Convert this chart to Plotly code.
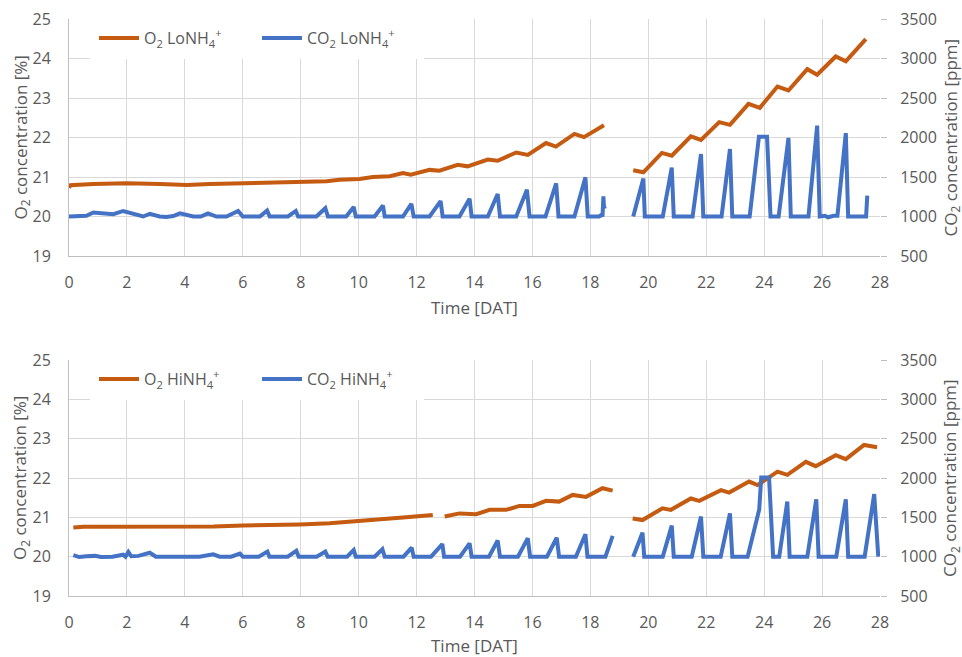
import plotly.graph_objects as go

# ---------------- data ----------------
# Top panel: LoNH4+
lo_o2_x = [0.0, 0.05, 0.84, 1.99, 3.14, 4.06, 4.86, 5.67, 6.59, 7.51, 7.97, 8.89, 9.34, 10.03,
           10.49, 11.07, 11.53, 11.8, 12.45, 12.79, 13.42, 13.76, 14.46, 14.8, 15.44, 15.84,
           16.47, 16.81, 17.45, 17.78, 18.47, None,
           19.48, 19.83, 20.47, 20.81, 21.47, 21.82, 22.45, 22.82, 23.46, 23.85, 24.46, 24.84,
           25.49, 25.83, 26.47, 26.82, 27.51]
lo_o2_pct = [20.73, 20.79, 20.82, 20.84, 20.82, 20.8, 20.82, 20.83, 20.84, 20.86, 20.88, 20.89,
             20.93, 20.95, 21.0, 21.02, 21.1, 21.06, 21.18, 21.16, 21.31, 21.27, 21.44, 21.41,
             21.62, 21.56, 21.86, 21.77, 22.09, 22.01, 22.31, None,
             21.17, 21.12, 21.61, 21.54, 22.03, 21.94, 22.39, 22.32, 22.85, 22.75, 23.29, 23.19,
             23.73, 23.59, 24.05, 23.93, 24.49]

lo_co2_x = [0.0, 0.34, 0.6, 0.84, 1.18, 1.53, 1.87, 2.2, 2.56, 2.79, 3.13, 3.36, 3.6, 3.83, 4.29,
            4.55, 4.8, 5.09, 5.44, 5.84, 6.0, 6.59, 6.84, 6.93, 7.56, 7.83, 7.91, 8.54, 8.85, 8.94,
            9.57, 9.83, 9.9, 10.55, 10.84, 10.9, 11.53, 11.82, 11.9, 12.45, 12.83, 12.9, 13.48,
            13.83, 13.9, 14.46, 14.8, 14.88, 15.44, 15.81, 15.9, 16.45, 16.82, 16.9, 17.45, 17.83,
            17.91, 18.3, 18.38, 18.42, 18.45, 18.47, 18.54, None,
            19.48, 19.83, 19.88, 20.5, 20.81, 20.88, 21.53, 21.82, 21.9, 22.53, 22.82, 22.9,
            23.5, 23.82, 24.1, 24.22, 24.5, 24.84, 24.92, 25.53, 25.83, 25.92, 26.1, 26.2, 26.4,
            26.53, 26.82, 26.9, 27.52, 27.56]
lo_co2_ppm = [1000, 1000, 1010, 1050, 1035, 1030, 1070, 1040, 1000, 1035, 1000, 995, 1005, 1040,
              1000, 1000, 1040, 1000, 1000, 1070, 1000, 1000, 1075, 1000, 1000, 1070, 1000, 1000,
              1105, 1000, 1000, 1120, 1000, 1000, 1140, 1000, 1000, 1160, 1000, 1000, 1195, 1000,
              1000, 1225, 1000, 1000, 1285, 1000, 1000, 1340, 1000, 1000, 1420, 1000, 1000, 1495,
              1000, 1000, 1020, 1000, 1255, 1120, 1130, None,
              1000, 1480, 1000, 1000, 1620, 1000, 1000, 1790, 1000, 1000, 1855, 1000,
              1000, 2010, 2010, 1000, 1000, 1995, 1000, 1000, 2150, 1000, 1010, 990, 1010,
              1010, 2055, 1000, 1000, 1265]

# Bottom panel: HiNH4+
hi_o2_x = [0.15, 0.5, 1.0, 1.99, 2.5, 3.0, 4.06, 5.0, 6.01, 7.0, 7.97, 9.0, 9.8, 10.72, 11.64,
           12.56, None,
           12.97, 13.48, 14.06, 14.52, 15.09, 15.55, 16.01, 16.47, 16.92, 17.39, 17.85, 18.42,
           18.77, None,
           19.46, 19.8, 20.49, 20.78, 21.47, 21.76, 22.51, 22.79, 23.48, 23.77, 24.46, 24.8,
           25.44, 25.78, 26.47, 26.82, 27.45, 27.9]
hi_o2_pct = [20.74, 20.76, 20.76, 20.76, 20.75, 20.75, 20.76, 20.77, 20.79, 20.8, 20.82, 20.85,
             20.89, 20.95, 21.0, 21.06, None,
             21.02, 21.1, 21.08, 21.19, 21.19, 21.29, 21.29, 21.42, 21.4, 21.57, 21.52, 21.74,
             21.68, None,
             20.97, 20.93, 21.23, 21.19, 21.48, 21.42, 21.69, 21.63, 21.91, 21.82, 22.16, 22.08,
             22.41, 22.3, 22.58, 22.48, 22.84, 22.78]

hi_co2_x = [0.15, 0.35, 0.6, 0.9, 1.1, 1.5, 1.87, 1.95, 2.05, 2.15, 2.4, 2.79, 3.0, 3.5, 4.0,
            4.5, 4.98, 5.2, 5.6, 5.9, 6.0, 6.55, 6.85, 6.92, 7.55, 7.85, 7.93, 8.55, 8.85, 8.93,
            9.6, 9.83, 9.9, 10.55, 10.82, 10.9, 11.55, 11.83, 11.9, 12.5, 12.89, 12.95, 13.5,
            13.83, 13.9, 14.5, 14.8, 14.88, 15.5, 15.84, 15.92, 16.5, 16.84, 16.92, 17.5, 17.83,
            17.9, 18.52, 18.77, None,
            19.48, 19.8, 19.86, 20.5, 20.81, 20.88, 21.5, 21.82, 21.9, 22.5, 22.82, 22.9, 23.43,
            23.83, 23.9, 24.17, 24.31, 24.52, 24.8, 24.88, 25.49, 25.8, 25.88, 26.49, 26.82,
            26.9, 27.47, 27.8, 27.94]
hi_co2_ppm = [1020, 995, 1005, 1010, 995, 1000, 1025, 1000, 1060, 1005, 1010, 1050, 1000, 1000,
              1000, 1000, 1030, 1000, 1000, 1040, 1000, 1000, 1065, 1000, 1000, 1075, 1000, 1000,
              1065, 1000, 1000, 1085, 1000, 1000, 1095, 1000, 1000, 1115, 1000, 1000, 1160, 1000,
              1000, 1170, 1000, 1000, 1205, 1000, 1000, 1235, 1000, 1000, 1240, 1000, 1000, 1285,
              1000, 1000, 1265, None,
              1000, 1305, 1000, 1000, 1395, 1000, 1000, 1510, 1000, 1000, 1550, 1000, 1000,
              1600, 2005, 2005, 1000, 1000, 1700, 1000, 1000, 1730, 1000, 1000, 1730,
              1000, 1000, 1795, 1000]

x_ticks = [0, 2, 4, 6, 8, 10, 12, 14, 16, 18, 20, 22, 24, 26, 28]
o2_ticks = [19, 20, 21, 22, 23, 24, 25]
co2_ticks = [500, 1000, 1500, 2000, 2500, 3000, 3500]

# ---------------- styling ----------------
ORANGE = "#C55A11"
BLUE = "#4472C4"
TXT = "#595959"
GRID = "#D9D9D9"
AXL = "#BFBFBF"
FONT = "Open Sans"

W, H = 962, 657
L, R, T, B = 69, 880, 19, 596  # plot area in pixels
pw, ph = R - L, B - T


def py(p):
    return (B - p) / ph


def px(p):
    return (p - L) / pw


LW = 4
fig = go.Figure()
fig.add_trace(go.Scatter(x=lo_o2_x, y=lo_o2_pct, mode="lines", name="O<sub>2</sub> LoNH<sub>4</sub><sup>+</sup>",
                         line=dict(color=ORANGE, width=LW), xaxis="x", yaxis="y", legend="legend"))
fig.add_trace(go.Scatter(x=lo_co2_x, y=lo_co2_ppm, mode="lines", name="CO<sub>2</sub> LoNH<sub>4</sub><sup>+</sup>",
                         line=dict(color=BLUE, width=LW), xaxis="x", yaxis="y2", legend="legend"))
fig.add_trace(go.Scatter(x=hi_o2_x, y=hi_o2_pct, mode="lines", name="O<sub>2</sub> HiNH<sub>4</sub><sup>+</sup>",
                         line=dict(color=ORANGE, width=LW), xaxis="x2", yaxis="y3", legend="legend2"))
fig.add_trace(go.Scatter(x=hi_co2_x, y=hi_co2_ppm, mode="lines", name="CO<sub>2</sub> HiNH<sub>4</sub><sup>+</sup>",
                         line=dict(color=BLUE, width=LW), xaxis="x2", yaxis="y4", legend="legend2"))

top_dom = [py(256), 1.0]
bot_dom = [0.0, py(360)]

xcommon = dict(range=[0, 28], tickvals=x_ticks, showgrid=True, gridcolor=GRID, gridwidth=1,
               showline=True, linecolor=AXL, linewidth=1, ticks="", zeroline=False,
               tickfont=dict(family=FONT, size=16, color=TXT), ticklabelstandoff=12,
               automargin=False)
ylcommon = dict(range=[19, 25], tickvals=o2_ticks, showgrid=True, gridcolor=GRID, gridwidth=1,
                showline=True, linecolor=AXL, linewidth=1, ticks="", zeroline=False,
                tickfont=dict(family=FONT, size=16, color=TXT), ticklabelstandoff=14,
                automargin=False)
yrcommon = dict(range=[500, 3500], tickvals=co2_ticks, showgrid=False, side="right",
                showline=False, ticks="outside", ticklen=6, tickcolor=AXL, zeroline=False,
                tickfont=dict(family=FONT, size=16, color=TXT), ticklabelstandoff=10,
                automargin=False)

legcommon = dict(orientation="h", xanchor="left", yanchor="middle",
                 bgcolor="white", borderwidth=4, bordercolor="white",
                 font=dict(family=FONT, size=16, color=TXT), entrywidth=108,
                 entrywidthmode="pixels", itemwidth=40)

fig.update_layout(
    width=W, height=H, plot_bgcolor="white", paper_bgcolor="white",
    margin=dict(l=L, r=W - R, t=T, b=H - B, autoexpand=False),
    font=dict(family=FONT, color=TXT),
    xaxis=dict(domain=[0, 1], anchor="y", **xcommon),
    yaxis=dict(domain=top_dom, anchor="x", **ylcommon),
    yaxis2=dict(overlaying="y", anchor="x", **yrcommon),
    xaxis2=dict(domain=[0, 1], anchor="y3", **xcommon),
    yaxis3=dict(domain=bot_dom, anchor="x2", **ylcommon),
    yaxis4=dict(overlaying="y3", anchor="x2", **yrcommon),
    legend=dict(x=px(90), y=py(38), **legcommon),
    legend2=dict(x=px(90), y=py(379), **legcommon),
    showlegend=True,
)

ann_font = dict(family=FONT, size=17, color=TXT)
annots = [
    dict(text="O<sub>2</sub> concentration [%]", x=px(21), y=py(137.5), textangle=-90),
    dict(text="CO<sub>2</sub> concentration [ppm]", x=px(951), y=py(137.5), textangle=-90),
    dict(text="Time [DAT]", x=px(474.5), y=py(307), textangle=0),
    dict(text="O<sub>2</sub> concentration [%]", x=px(21), y=py(478), textangle=-90),
    dict(text="CO<sub>2</sub> concentration [ppm]", x=px(951), y=py(478), textangle=-90),
    dict(text="Time [DAT]", x=px(474.5), y=py(645), textangle=0),
]
for a in annots:
    fig.add_annotation(xref="paper", yref="paper", showarrow=False, xanchor="center",
                       yanchor="middle", font=ann_font, **a)

fig.write_html("out.html", config={"displayModeBar": False},
               post_script="document.body.style.margin='0';document.body.style.overflow='hidden';")
